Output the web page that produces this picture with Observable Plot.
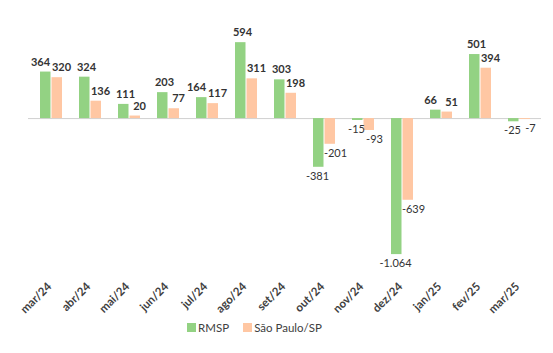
<!DOCTYPE html>
<html>
<head>
<meta charset="utf-8">
<script src="https://cdn.jsdelivr.net/npm/d3@7"></script>
<script src="https://cdn.jsdelivr.net/npm/@observablehq/plot@0.6"></script>
<style>
  html, body { margin: 0; padding: 0; background: #fff; }
  #chart { width: 553px; }
  #chart svg { overflow: visible; }
  .legend { display: flex; justify-content: center; align-items: center; gap: 14px; font-family: Lato, "Liberation Sans", sans-serif; font-size: 11.5px; color: #404040; height: 22px; width: 509px; }
  .legend span.item { display: flex; align-items: center; gap: 2px; }
  .legend span.sw { display: inline-block; width: 9px; height: 9px; }
</style>
</head>
<body>
<div id="chart"></div>
<script>
const months = ["mar/24","abr/24","mai/24","jun/24","jul/24","ago/24","set/24","out/24","nov/24","dez/24","jan/25","fev/25","mar/25"];
const rmsp   = [364, 324, 111, 203, 164, 594, 303, -381, -15, -1064, 66, 501, -25];
const spCity = [320, 136, 20, 77, 117, 311, 198, -201, -93, -639, 51, 394, -7];
const seriesNames = ["RMSP", "São Paulo/SP"];
const colors = ["#93D283", "#FFC7A3"];

const data = months.flatMap((m, i) => [
  {month: m, series: seriesNames[0], value: rmsp[i], other: spCity[i]},
  {month: m, series: seriesNames[1], value: spCity[i], other: rmsp[i]}
]);
const g = data.filter(d => d.series === seriesNames[0]);
const o = data.filter(d => d.series === seriesNames[1]);

const fmt = d3.formatLocale({decimal: ",", thousands: ".", grouping: [3], currency: ["", ""], minus: "-"}).format(",d");
const font = "Lato, 'Liberation Sans', sans-serif";
// labels of the two bars collide when their values are close: push the first one aside
const close = d => Math.abs(d.value - d.other) < 90;

const W = 553, H = 316;
const chart = Plot.plot({
  width: W,
  height: H,
  marginLeft: 28,
  marginRight: 12,
  marginTop: 35,
  marginBottom: 57.3,
  style: {fontFamily: font, background: "#fff", overflow: "visible"},
  x: {domain: months, paddingInner: 0.44, paddingOuter: 0.23, axis: null},
  y: {domain: [-1100, 650], axis: null},
  marks: [
    Plot.ruleY([0], {stroke: "#d0d0d0", strokeWidth: 1}),
    Plot.barY(g, {x: "month", y: "value", fill: colors[0], insetRight: 11.5}),
    Plot.barY(o, {x: "month", y: "value", fill: colors[1], insetLeft: 11.5}),
    // value labels, positive
    Plot.text(g.filter(d => d.value >= 0), {x: "month", y: "value", text: d => fmt(d.value), dx: -4, dy: -10, lineAnchor: "middle", fontSize: 11, fontWeight: "bold", fill: "#333", filter: d => !close(d)}),
    Plot.text(g.filter(d => d.value >= 0), {x: "month", y: "value", text: d => fmt(d.value), dx: -11, dy: -10, lineAnchor: "middle", fontSize: 11, fontWeight: "bold", fill: "#333", filter: close}),
    Plot.text(o.filter(d => d.value >= 0), {x: "month", y: "value", text: d => fmt(d.value), dx: 10, dy: -10, lineAnchor: "middle", fontSize: 11, fontWeight: "bold", fill: "#333"}),
    // value labels, negative
    Plot.text(g.filter(d => d.value < 0), {x: "month", y: "value", text: d => fmt(d.value), dx: -7, dy: 9, lineAnchor: "middle", fontSize: 11, fill: "#333"}),
    Plot.text(o.filter(d => d.value < 0), {x: "month", y: "value", text: d => fmt(d.value), dx: 11, dy: 9, lineAnchor: "middle", fontSize: 11, fill: "#333"}),
    // category labels
    Plot.text(months, {x: d => d, y: 0, dy: 166, dx: -2, rotate: -45, textAnchor: "end", lineAnchor: "middle", fontSize: 11.5, fontWeight: "bold", fill: "#404040"})
  ]
});
document.getElementById("chart").appendChild(chart);

const legend = document.createElement("div");
legend.className = "legend";
seriesNames.forEach((s, i) => {
  const item = document.createElement("span");
  item.className = "item";
  const sw = document.createElement("span");
  sw.className = "sw";
  sw.style.background = colors[i];
  const t = document.createElement("span");
  t.textContent = s;
  item.appendChild(sw);
  item.appendChild(t);
  legend.appendChild(item);
});
document.getElementById("chart").appendChild(legend);
</script>
</body>
</html>
